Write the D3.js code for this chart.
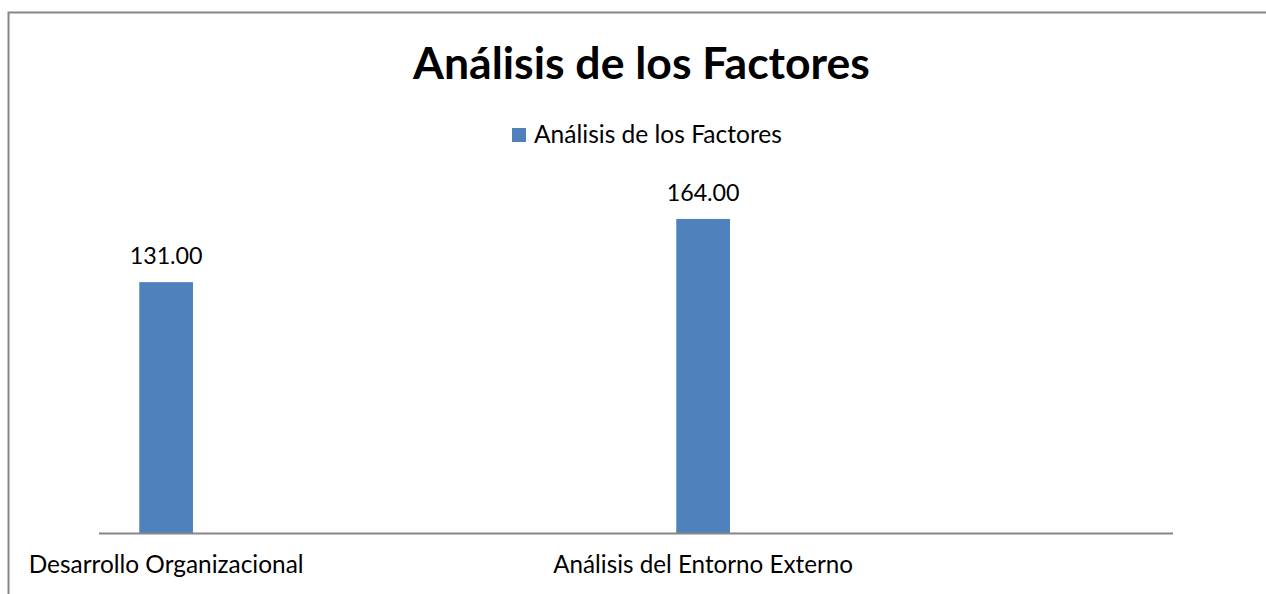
<!DOCTYPE html>
<html>
<head>
<meta charset="utf-8">
<script src="https://cdn.jsdelivr.net/npm/d3@7"></script>
<style>
  html, body { margin: 0; padding: 0; background: #fff; }
  svg { display: block; font-family: Lato, "Open Sans", sans-serif; }
</style>
</head>
<body>
<div id="chart"></div>
<script>
// chart data
const categories = ["Desarrollo Organizacional", "Análisis del Entorno Externo"];
const values = [131.00, 164.00];
const seriesName = "Análisis de los Factores";
const chartTitle = "Análisis de los Factores";

const width = 1266, height = 594;
const barColor = "#4f81bd";
const lineColor = "#868686";

const svg = d3.select("#chart").append("svg")
  .attr("width", width)
  .attr("height", height);

// outer chart frame (only top/left edges visible in the crop)
svg.append("path")
  .attr("d", "M8.5," + height + " V12.5 H" + width)
  .attr("fill", "none")
  .attr("stroke", lineColor)
  .attr("stroke-width", 2);

// scales
const x = d3.scaleBand()
  .domain(categories)
  .range([99, 1173])
  .padding(0);

const y = d3.scaleLinear()
  .domain([0, 180])
  .range([533, 533 - 180 * 1.915]);

const barOffset = x.bandwidth() * 0.075;
const barWidth = x.bandwidth() * 0.1;
const barCenter = c => x(c) + barOffset + barWidth / 2;

// fit text to a measured width by adjusting font size
function fitText(sel, target) {
  sel.each(function() {
    const fs = parseFloat(this.getAttribute("font-size"));
    const len = this.getComputedTextLength();
    if (len > 0) this.setAttribute("font-size", (fs * target / len).toFixed(2));
  });
}

// title
svg.append("text")
  .attr("x", 641.5)
  .attr("y", 79)
  .attr("text-anchor", "middle")
  .attr("font-size", 44)
  .attr("font-weight", "bold")
  .attr("fill", "#000")
  .text(chartTitle)
  .call(fitText, 457);

// legend
const legend = svg.append("g");
legend.append("rect")
  .attr("x", 512)
  .attr("y", 128)
  .attr("width", 14)
  .attr("height", 14)
  .attr("fill", barColor);
legend.append("text")
  .attr("x", 534)
  .attr("y", 143)
  .attr("font-size", 22)
  .attr("fill", "#000")
  .text(seriesName)
  .call(fitText, 248);

// bars
svg.selectAll("rect.bar")
  .data(values)
  .join("rect")
  .attr("class", "bar")
  .attr("x", (d, i) => x(categories[i]) + barOffset)
  .attr("width", barWidth)
  .attr("y", d => y(d))
  .attr("height", d => y(0) - y(d))
  .attr("fill", barColor);

// value labels
svg.selectAll("text.value")
  .data(values)
  .join("text")
  .attr("class", "value")
  .attr("x", (d, i) => barCenter(categories[i]))
  .attr("y", d => y(d) - 18)
  .attr("text-anchor", "middle")
  .attr("font-size", 22)
  .attr("fill", "#000")
  .text(d => d3.format(".2f")(d))
  .call(fitText, 73);

// category axis line
svg.append("line")
  .attr("x1", x.range()[0])
  .attr("x2", x.range()[1])
  .attr("y1", y(0) + 0.5)
  .attr("y2", y(0) + 0.5)
  .attr("stroke", lineColor)
  .attr("stroke-width", 2);

// category labels
const catWidths = [275, 300];
svg.selectAll("text.cat")
  .data(categories)
  .join("text")
  .attr("class", "cat")
  .attr("x", d => barCenter(d))
  .attr("y", 573)
  .attr("text-anchor", "middle")
  .attr("font-size", 22)
  .attr("fill", "#000")
  .text(d => d)
  .each(function(d, i) { d3.select(this).call(fitText, catWidths[i]); });
</script>
</body>
</html>
